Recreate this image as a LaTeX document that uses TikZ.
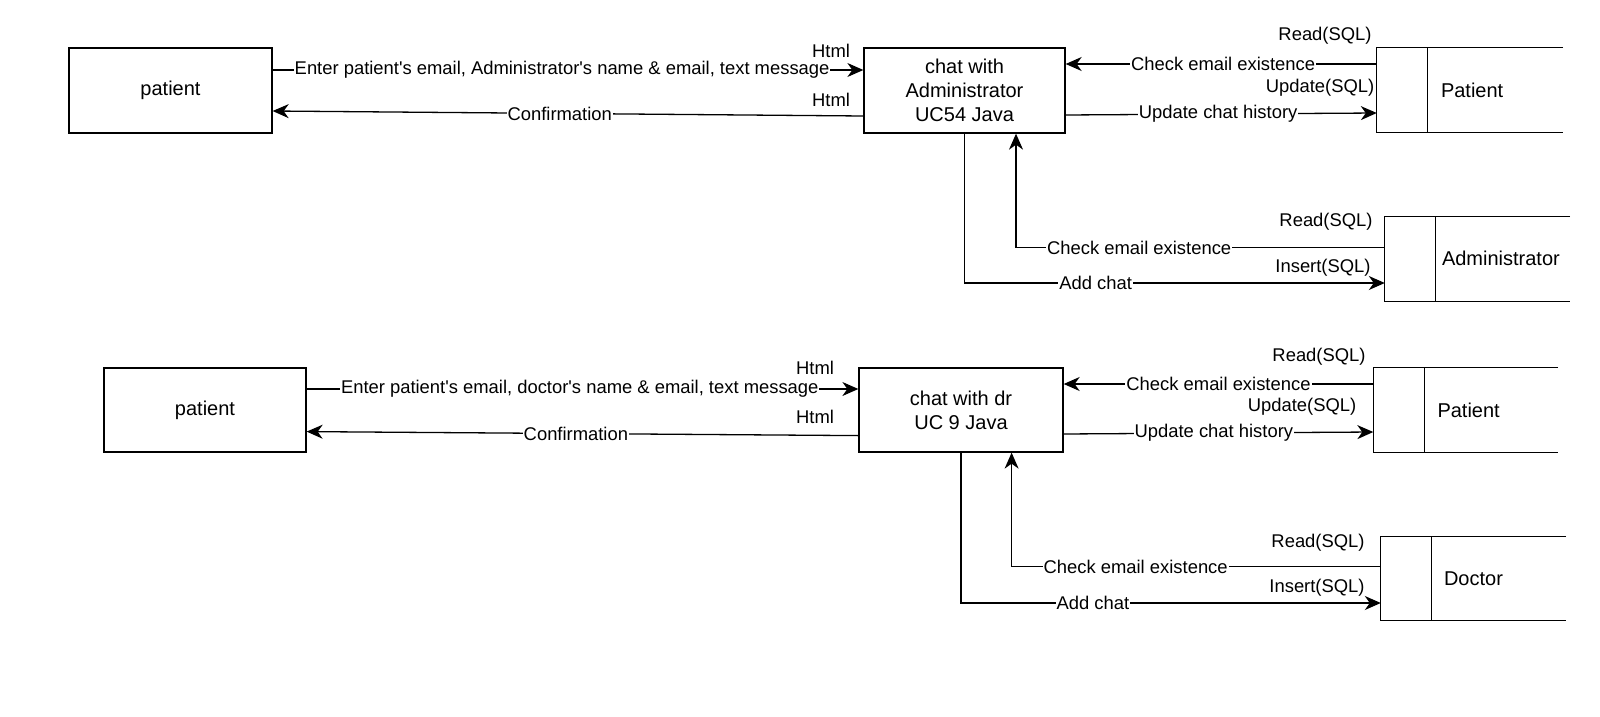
\documentclass[tikz,border=0pt]{standalone}
\usepackage{fontspec}
\setmainfont{Liberation Sans}
\usetikzlibrary{arrows.meta}

\tikzset{
  proc/.style={draw, line width=1.3pt, inner sep=0pt, align=center, font=\fontsize{20}{24}\selectfont},
  store/.style={inner sep=0pt},
  storetxt/.style={inner sep=0pt, anchor=west, font=\fontsize{20}{24}\selectfont},
  edge/.style={line width=1.3pt},
  flow/.style={line width=1.3pt, -{Stealth[length=16pt,width=14pt,inset=5pt]}},
  lbl/.style={fill=white, inner sep=1pt, font=\fontsize{18.4}{22}\selectfont},
  tag/.style={inner sep=0pt, font=\fontsize{18.4}{22}\selectfont},
}
\newcommand{\q}{\textquotesingle}

\begin{document}
\begin{tikzpicture}[x=1pt,y=-1pt]
    \useasboundingbox (0,0) rectangle (1600,717);

    % chat with administrator
    \node[proc, minimum width=203pt, minimum height=85pt] (pat1) at (170.5,90.5) {patient};
    \node[proc, minimum width=201pt, minimum height=85pt] (chat1) at (964.5,90.5) {chat with\\Administrator\\UC54 Java};
    \node[store, minimum width=186pt, minimum height=84pt] (pst1) at (1470,90) {};
    \node[store, minimum width=185pt, minimum height=84.5pt] (adm) at (1477.5,258.75) {};
    \draw[edge] (pst1.north east) -- (pst1.north west) -- (pst1.south west) -- (pst1.south east);
    \draw[edge] ([xshift=51pt]pst1.north west) -- ([xshift=51pt]pst1.south west);
    \draw[edge] (adm.north east) -- (adm.north west) -- (adm.south west) -- (adm.south east);
    \draw[edge] ([xshift=50.5pt]adm.north west) -- ([xshift=50.5pt]adm.south west);
    \node[storetxt] (pst1txt) at ([xshift=64pt]pst1.west) {Patient};
    \node[storetxt] (admtxt) at ([xshift=57pt]adm.west) {Administrator};

    \draw[flow] (pat1.east |- 0,70) -- node[lbl, pos=0.49]{Enter patient\q s email, Administrator\q s name \& email, text message} (chat1.west |- 0,70);
    \draw[flow] (chat1.west |- 0,116) -- node[lbl, pos=0.514]{Confirmation} (pat1.east |- 0,111);
    \node[tag] (html1a) at (831,51) {Html};
    \node[tag] (html1b) at (831,100) {Html};

    \draw[flow] (pst1.west |- 0,64) -- node[lbl, pos=0.494]{Check email existence} (chat1.east |- 0,64);
    \draw[flow] (chat1.east |- 0,115) -- node[lbl, pos=0.49]{Update chat history} (pst1.west |- 0,113);
    \node[tag] (rd1) at (1325,36) {Read(SQL)};
    \node[tag] (up1) at (1320,88) {Update(SQL)};

    \draw[flow] (chat1.south) |- node[lbl, pos=0.656]{Add chat} (adm.west |- 0,283);
    \draw[flow] (adm.west |- 0,247.6) -| node[lbl, pos=0.333]{Check email existence} (chat1.south -| 1016,0);
    \node[tag] (rd2) at (1326,222) {Read(SQL)};
    \node[tag] (ins1) at (1323,268) {Insert(SQL)};

    % chat with doctor
    \node[proc, minimum width=202pt, minimum height=84pt] (pat2) at (205,410) {patient};
    \node[proc, minimum width=204pt, minimum height=84pt] (chat2) at (961,410) {chat with dr\\UC 9 Java};
    \node[store, minimum width=184.5pt, minimum height=84pt] (pst2) at (1465.75,410) {};
    \node[store, minimum width=185pt, minimum height=83.3pt] (doc) at (1473.5,578.35) {};
    \draw[edge] (pst2.north east) -- (pst2.north west) -- (pst2.south west) -- (pst2.south east);
    \draw[edge] ([xshift=51pt]pst2.north west) -- ([xshift=51pt]pst2.south west);
    \draw[edge] (doc.north east) -- (doc.north west) -- (doc.south west) -- (doc.south east);
    \draw[edge] ([xshift=50.7pt]doc.north west) -- ([xshift=50.7pt]doc.south west);
    \node[storetxt] (pst2txt) at ([xshift=64pt]pst2.west) {Patient};
    \node[storetxt] (doctxt) at ([xshift=63pt]doc.west) {Doctor};

    \draw[flow] (pat2.east |- 0,389) -- node[lbl, pos=0.495]{Enter patient\q s email, doctor\q s name \& email, text message} (chat2.west |- 0,389);
    \draw[flow] (chat2.west |- 0,435.6) -- node[lbl, pos=0.512]{Confirmation} (pat2.east |- 0,431.6);
    \node[tag] (html2a) at (815,368) {Html};
    \node[tag] (html2b) at (815,417) {Html};

    \draw[flow] (pst2.west |- 0,384) -- node[lbl, pos=0.5]{Check email existence} (chat2.east |- 0,384);
    \draw[flow] (chat2.east |- 0,434) -- node[lbl, pos=0.485]{Update chat history} (pst2.west |- 0,432);
    \node[tag] (rd3) at (1319,357) {Read(SQL)};
    \node[tag] (up2) at (1302,407) {Update(SQL)};

    \draw[flow] (chat2.south) |- node[lbl, pos=0.657]{Add chat} (doc.west |- 0,603);
    \draw[flow] (doc.west |- 0,566.7) -| node[lbl, pos=0.332]{Check email existence} (chat2.south -| 1011.6,0);
    \node[tag] (rd4) at (1318,543) {Read(SQL)};
    \node[tag] (ins2) at (1317,588) {Insert(SQL)};

\end{tikzpicture}
\end{document}
